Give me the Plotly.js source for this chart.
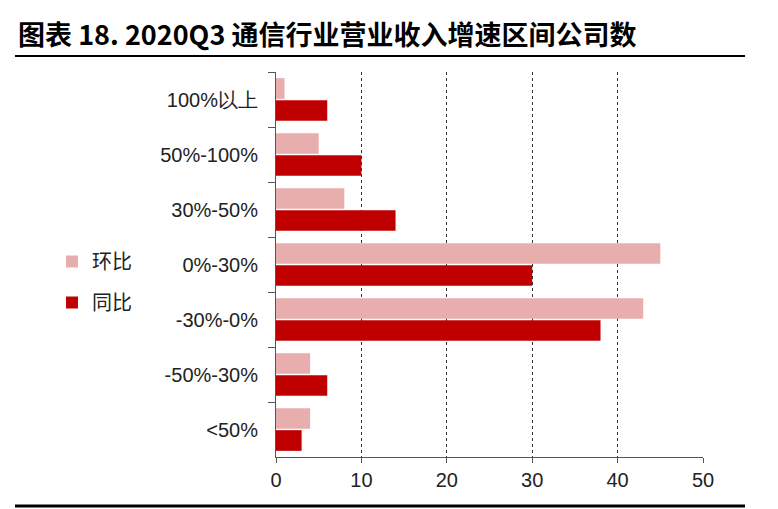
<!DOCTYPE html>
<html>
<head>
<meta charset="utf-8">
<script src="https://cdn.plot.ly/plotly-3.0.1.min.js"></script>
<style>
html,body{margin:0;padding:0;background:#fff;}
#chart{width:778px;height:509px;}
</style>
</head>
<body>
<div id="chart"></div>
<script>
const categories = ["100%以上", "50%-100%", "30%-50%", "0%-30%", "-30%-0%", "-50%-30%", "<50%"];
const seriesNames = ["环比", "同比"];
const huanbi = [1, 5, 8, 45, 43, 4, 4];
const tongbi = [6, 10, 14, 30, 38, 6, 3];
const xTicks = [0, 10, 20, 30, 40, 50];
const titleText = "图表 18. 2020Q3 通信行业营业收入增速区间公司数";

const W = 778, H = 509;
const L = 276, R = 703, T = 72, B = 457;
const px = v => (v - L) / (R - L);
const py = v => (B - v) / (B - T);
const narrow = 'Liberation Sans Narrow, Liberation Sans, Arial, sans-serif';

const traces = [
  {type: 'bar', orientation: 'h', name: seriesNames[0], y: categories, x: huanbi,
   marker: {color: '#E8AEAE'}, legendgroup: 'a', hoverinfo: 'x+y'},
  {type: 'bar', orientation: 'h', name: seriesNames[1], y: categories, x: tongbi,
   marker: {color: '#C00000'}, legendgroup: 'b', hoverinfo: 'x+y'}
];

const layout = {
  width: W, height: H,
  margin: {l: L, r: W - R, t: T, b: H - B, pad: 0},
  paper_bgcolor: '#fff', plot_bgcolor: '#fff',
  barmode: 'group', bargap: 0.2, bargroupgap: 0.06,
  font: {family: narrow, color: '#222', size: 16},
  showlegend: true,
  legend: {x: px(52), y: py(242), xanchor: 'left', yanchor: 'top',
           font: {family: 'Noto Sans CJK SC, sans-serif', size: 20, color: '#222'},
           tracegroupgap: 12, itemwidth: 30, bgcolor: 'rgba(0,0,0,0)'},
  xaxis: {range: [0, 50], tickvals: xTicks, ticktext: xTicks.map(String),
          showgrid: true, gridcolor: '#333', griddash: 'dot', gridwidth: 1,
          zeroline: false, showline: true, linecolor: '#555', linewidth: 1,
          ticks: 'outside', ticklen: 5, tickcolor: '#555',
          tickfont: {family: narrow, size: 20, color: '#222'},
          fixedrange: true},
  yaxis: {type: 'category', autorange: 'reversed', tickson: 'boundaries',
          ticks: 'outside', ticklen: 7, tickcolor: '#555',
          showline: true, linecolor: '#555', linewidth: 1, showgrid: false,
          ticklabelstandoff: 13,
          tickfont: {family: narrow, size: 20, color: '#222'},
          fixedrange: true},
  annotations: [
    {text: '<b>' + titleText + '</b>', xref: 'paper', yref: 'paper',
     x: px(16), y: py(33), xanchor: 'left', yanchor: 'middle', showarrow: false,
     font: {family: 'Noto Sans CJK SC, sans-serif', size: 27, color: '#000'}}
  ],
  shapes: [
    {type: 'line', xref: 'paper', yref: 'paper', x0: px(15), x1: px(745), y0: py(56), y1: py(56),
     line: {color: '#000', width: 2}},
    {type: 'line', xref: 'paper', yref: 'paper', x0: px(15), x1: px(745), y0: py(506), y1: py(506),
     line: {color: '#000', width: 3}}
  ]
};

Plotly.newPlot('chart', traces, layout, {displayModeBar: false, staticPlot: true});
</script>
</body>
</html>
